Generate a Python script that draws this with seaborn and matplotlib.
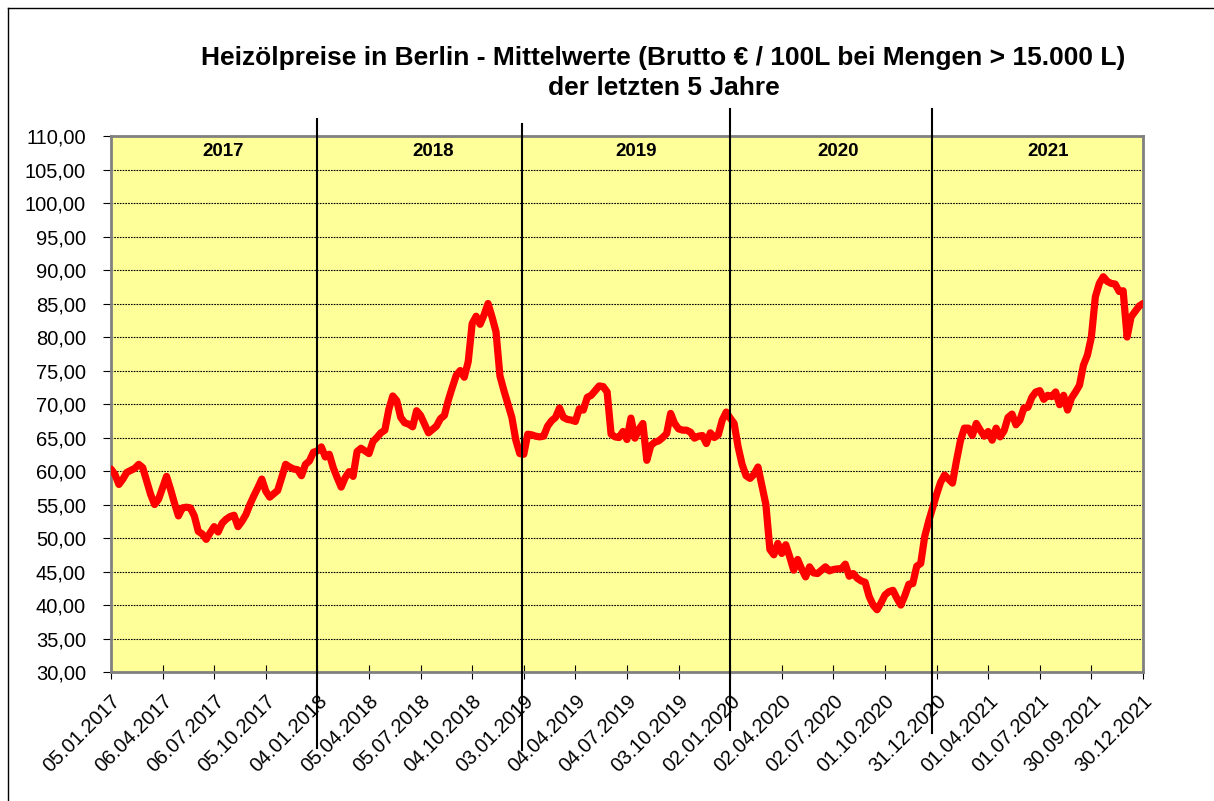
import numpy as np
import pandas as pd
import matplotlib
matplotlib.use("Agg")
import matplotlib.pyplot as plt
import seaborn as sns
from matplotlib.lines import Line2D
from matplotlib.ticker import FuncFormatter

# weekly average prices (Brutto EUR / 100L), 05.01.2017 .. 30.12.2021
prices_2017 = [60.3, 59.5, 58.0, 58.8, 59.8, 60.1, 60.4, 61.0, 60.5, 58.5,
               56.5, 55.0, 55.8, 57.5, 59.2, 57.3, 55.2, 53.3, 54.5, 54.6,
               54.5, 53.3, 51.0, 50.6, 49.8, 50.8, 51.7, 50.9, 52.2, 52.8,
               53.2, 53.4, 51.7, 52.5, 53.5, 55.0, 56.3, 57.5, 58.8, 57.0,
               56.1, 56.6, 57.1, 59.0, 61.0, 60.6, 60.3, 60.2, 59.3, 61.0,
               61.5, 62.8]
prices_2018 = [63.0, 63.6, 62.1, 62.5, 60.5, 59.0, 57.6, 59.0, 59.9, 59.2,
               62.9, 63.4, 63.0, 62.6, 64.4, 65.0, 65.7, 66.1, 69.2, 71.2,
               70.5, 68.0, 67.2, 67.0, 66.6, 69.0, 68.3, 67.0, 65.7, 66.2,
               66.7, 67.8, 68.3, 70.6, 72.5, 74.3, 75.0, 74.0, 76.3, 82.0,
               83.1, 81.9, 83.3, 85.0, 83.0, 80.8, 74.2, 72.0, 70.0, 68.0,
               64.6, 62.6]
prices_2019 = [62.5, 65.5, 65.4, 65.2, 65.1, 65.2, 66.7, 67.5, 68.0, 69.4,
               68.0, 67.7, 67.6, 67.4, 69.3, 69.1, 71.0, 71.3, 72.0, 72.7,
               72.6, 71.8, 65.5, 65.1, 65.0, 65.9, 64.7, 67.9, 64.9, 66.2,
               67.1, 61.6, 63.8, 64.3, 64.5, 65.0, 65.6, 68.6, 67.1, 66.3,
               66.1, 66.1, 65.8, 64.9, 65.2, 65.3, 64.1, 65.7, 65.0, 65.4,
               67.6, 68.8]
prices_2020 = [67.9, 67.1, 63.6, 61.0, 59.3, 58.9, 59.5, 60.6, 57.8, 55.0,
               48.3, 47.5, 49.2, 47.7, 49.0, 47.2, 45.2, 46.8, 45.4, 44.2,
               45.7, 44.8, 44.7, 45.2, 45.7, 45.1, 45.3, 45.4, 45.4, 46.1,
               44.3, 44.7, 44.0, 43.6, 43.4, 41.3, 40.0, 39.3, 40.3, 41.5,
               42.0, 42.2, 41.0, 40.0, 41.4, 43.1, 43.2, 45.8, 46.2, 50.2,
               52.5, 54.5]
prices_2021 = [56.5, 58.3, 59.4, 58.8, 58.2, 61.5, 64.5, 66.4, 66.4, 65.3,
               67.1, 66.1, 65.2, 65.9, 64.6, 66.4, 65.1, 66.0, 68.0, 68.5,
               66.9, 67.6, 69.4, 69.5, 71.0, 71.8, 72.0, 70.7, 71.3, 71.1,
               71.8, 69.9, 71.3, 69.1, 70.9, 71.8, 72.8, 75.8, 77.3, 80.0,
               86.0, 88.0, 89.0, 88.3, 88.0, 87.9, 86.8, 86.9, 80.0, 83.0,
               83.8, 84.6, 85.0]

prices = prices_2017 + prices_2018 + prices_2019 + prices_2020 + prices_2021

tick_labels = ["05.01.2017", "06.04.2017", "06.07.2017", "05.10.2017",
               "04.01.2018", "05.04.2018", "05.07.2018", "04.10.2018",
               "03.01.2019", "04.04.2019", "04.07.2019", "03.10.2019",
               "02.01.2020", "02.04.2020", "02.07.2020", "01.10.2020",
               "31.12.2020", "01.04.2021", "01.07.2021", "30.09.2021",
               "30.12.2021"]
years = ["2017", "2018", "2019", "2020", "2021"]

df = pd.DataFrame({"week": np.arange(len(prices)), "price": prices})

plt.rcParams["font.family"] = ["Liberation Sans", "DejaVu Sans"]

fig = plt.figure(figsize=(12.14, 8.01), dpi=100)
ax = fig.add_axes([0.0914, 0.1610, 0.8501, 0.6692])
ax.set_facecolor("#FFFF99")

sns.lineplot(data=df, x="week", y="price", ax=ax, color="#FF0000",
             linewidth=5.2, zorder=3)
ax.lines[-1].set_solid_joinstyle("round")
ax.lines[-1].set_solid_capstyle("round")

ax.set_xlim(0, 260)
ax.set_ylim(30, 110)
ax.set_xticks(np.arange(0, 261, 13))
ax.set_xticklabels(tick_labels, rotation=45, ha="right",
                   rotation_mode="anchor", fontsize=14.5)
ax.set_yticks(np.arange(30, 111, 5))
ax.yaxis.set_major_formatter(FuncFormatter(lambda v, p: f"{v:.2f}".replace(".", ",")))
ax.tick_params(axis="y", labelsize=14.5, length=6, direction="out", pad=12)
ax.tick_params(axis="x", length=10, direction="inout", pad=9)
ax.set_xlabel("")
ax.set_ylabel("")

# dotted horizontal gridlines
for v in range(35, 110, 5):
    ax.axhline(v, color="black", linestyle=(0, (1.5, 1)), linewidth=0.8, zorder=1)

for s in ax.spines.values():
    s.set_color("#808080")
    s.set_linewidth(2)

# year separators that stick out of the plot area
sep_x = [52.0, 103.6, 156.0, 206.9]
sep_top = [112.5, 111.8, 114.0, 114.0]
sep_bot = [18.7, 18.4, 21.3, 20.9]
for xs, yt, yb in zip(sep_x, sep_top, sep_bot):
    ax.plot([xs, xs], [yb, yt], color="black", linewidth=1.5, clip_on=False, zorder=4)

year_x = [28.2, 81.2, 132.4, 183.2, 236.0]
for yx, label in zip(year_x, years):
    ax.text(yx, 107.7, label, ha="center", va="center", fontsize=13.5,
            fontweight="bold", zorder=5)

fig.text(0.5465, 0.9276, "Heizölpreise in Berlin - Mittelwerte (Brutto € / 100L bei Mengen > 15.000 L)",
         ha="center", va="center", fontsize=19, fontweight="bold")
fig.text(0.5465, 0.890, "der letzten 5 Jahre", ha="center", va="center",
         fontsize=19, fontweight="bold")

# outer frame (left and top edge)
fig.add_artist(Line2D([8 / 1214, 8 / 1214], [0, 1 - 8 / 801], transform=fig.transFigure,
                      color="black", linewidth=1))
fig.add_artist(Line2D([8 / 1214, 1], [1 - 8 / 801, 1 - 8 / 801], transform=fig.transFigure,
                      color="black", linewidth=1))

fig.savefig("out.png", dpi=100)
